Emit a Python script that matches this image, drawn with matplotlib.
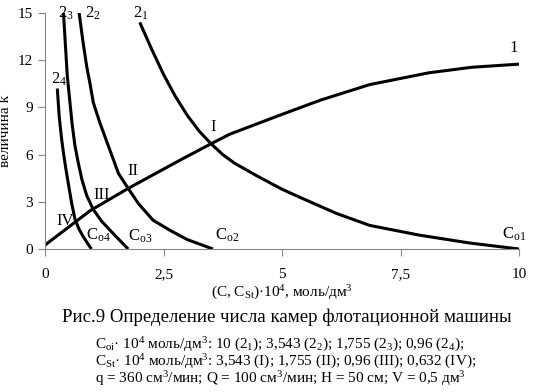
import matplotlib
matplotlib.use("Agg")
import matplotlib.pyplot as plt

plt.rcParams['font.family'] = ['Liberation Serif', 'DejaVu Serif']
plt.rcParams['mathtext.fontset'] = 'custom'
plt.rcParams['mathtext.rm'] = 'Liberation Serif'
plt.rcParams['mathtext.it'] = 'Liberation Serif:italic'

# curve 1 (k vs C_St)
x1 = [0, 0.632, 0.96, 1.755, 2.85, 3.51, 3.9, 4.95, 5.8, 6.85, 8.1, 9.0, 10]
y1 = [0.25, 1.7, 2.45, 3.85, 5.65, 6.7, 7.3, 8.5, 9.45, 10.45, 11.2, 11.55, 11.75]

# curve 2_1 (Co = 10)
x21 = [2.0, 2.25, 2.5, 2.75, 3.0, 3.25, 3.5, 3.75, 4.0, 4.5, 5.0, 5.44, 6.15, 6.85, 7.9, 8.96, 10]
y21 = [14.4, 12.7, 11.1, 9.7, 8.5, 7.5, 6.7, 6.0, 5.45, 4.6, 3.8, 3.2, 2.26, 1.5, 0.88, 0.38, 0.0]

# curve 2_2 (Co = 3,543)
x22 = [0.72, 0.8, 0.88, 0.95, 1.02, 1.16, 1.37, 1.55, 1.755, 1.97, 2.28, 2.63, 3.0, 3.543]
y22 = [15.0, 13.2, 11.6, 10.5, 9.3, 8.0, 6.28, 4.8, 3.85, 2.89, 1.83, 1.2, 0.6, 0.0]

# curve 2_3 (Co = 1,755)
x23 = [0.39, 0.43, 0.47, 0.52, 0.57, 0.63, 0.7, 0.78, 0.88, 1.02, 1.2, 1.37, 1.56, 1.755]
y23 = [15.0, 13.0, 11.0, 9.5, 8.0, 6.6, 5.5, 4.4, 3.4, 2.5, 1.75, 1.2, 0.6, 0.0]

# curve 2_4 (Co = 0,96)
x24 = [0.26, 0.3, 0.35, 0.39, 0.44, 0.49, 0.56, 0.632, 0.72, 0.81, 0.9, 0.98]
y24 = [10.2, 8.4, 7.0, 6.1, 5.1, 4.2, 2.95, 1.9, 1.25, 0.77, 0.35, 0.0]

xticks = [0, 2.5, 5, 7.5, 10]
xticklabels = ['0', '2,5', '5', '7,5', '10']
yticks = [0, 3, 6, 9, 12, 15]

fig = plt.figure(figsize=(5.51, 3.92), dpi=100)
ax = fig.add_axes([45 / 551, 1 - 249 / 392, 474 / 551, 236 / 392])

for xs, ys in [(x1, y1), (x21, y21), (x22, y22), (x23, y23), (x24, y24)]:
    ax.plot(xs, ys, color='black', lw=2.2, solid_capstyle='butt',
            solid_joinstyle='round')

ax.set_xlim(0, 10)
ax.set_ylim(0, 15)
ax.set_xticks(xticks)
ax.set_xticklabels(xticklabels)
ax.set_yticks(yticks)
for s in ['top', 'right']:
    ax.spines[s].set_visible(False)
for s in ['left', 'bottom']:
    ax.spines[s].set_color('#868686')
ax.tick_params(colors='#868686', labelcolor='black', labelsize=11, length=5)
ax.tick_params(axis='x', pad=9)

ax.set_ylabel('величина k', fontsize=11, labelpad=4)
ax.set_xlabel('(C, C$_{\\rm St}$)·10$^4$, моль/дм$^3$', fontsize=11, labelpad=2)

fs = 12
ax.text(0.45, 15.0, '2$_3$', fontsize=fs, ha='center', va='center')
ax.text(1.0, 15.0, '2$_2$', fontsize=fs, ha='center', va='center')
ax.text(2.03, 15.0, '2$_1$', fontsize=fs, ha='center', va='center')
ax.text(0.3, 10.8, '2$_4$', fontsize=fs, ha='center', va='center')
ax.text(9.88, 12.8, '1', fontsize=fs, ha='center', va='center')
ax.text(3.55, 7.75, 'I', fontsize=fs, ha='center', va='center')
ax.text(1.85, 4.95, 'II', fontsize=fs, ha='center', va='center')
ax.text(1.19, 3.45, 'III', fontsize=fs, ha='center', va='center')
ax.text(0.42, 1.8, 'IV', fontsize=fs, ha='center', va='center')
ax.text(1.12, 0.9, 'C$_{\\rm o4}$', fontsize=fs, ha='center', va='center')
ax.text(2.0, 0.8, 'C$_{\\rm o3}$', fontsize=fs, ha='center', va='center')
ax.text(3.85, 0.85, 'C$_{\\rm o2}$', fontsize=fs, ha='center', va='center')
ax.text(9.9, 0.95, 'C$_{\\rm o1}$', fontsize=fs, ha='center', va='center')

fig.text(287 / 551, 1 - 317 / 392, 'Рис.9 Определение числа камер флотационной машины',
         fontsize=13.6, ha='center', va='center')
lines = [
    'C$_{\\rm oi}$· 10$^4$ моль/дм$^3$: 10 (2$_1$); 3,543 (2$_2$); 1,755 (2$_3$); 0,96 (2$_4$);',
    'C$_{\\rm St}$· 10$^4$ моль/дм$^3$: 3,543 (I); 1,755 (II); 0,96 (III); 0,632 (IV);',
    'q = 360 см$^3$/мин; Q = 100 см$^3$/мин; H = 50 см; V = 0,5 дм$^3$',
]
for i, t in enumerate(lines):
    fig.text(95 / 551, 1 - (345 + i * 17) / 392, t, fontsize=11, ha='left', va='center')

fig.savefig('out.png', dpi=100)
